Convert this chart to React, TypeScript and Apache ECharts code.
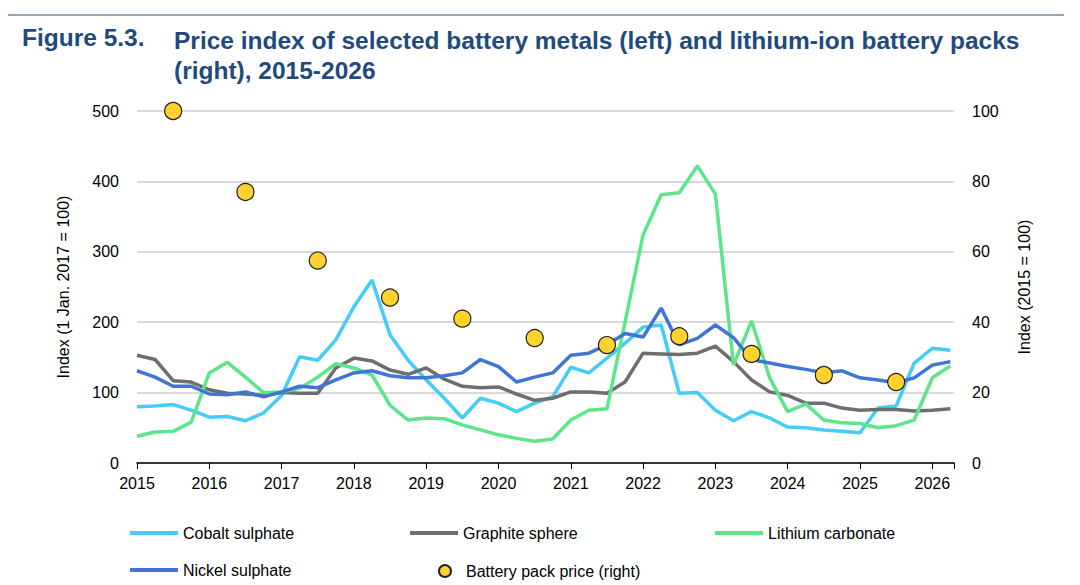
import { useEffect, useRef } from "react";
import * as echarts from "echarts";

// quarterly points, 2015 Q1 .. 2026 Q2
const quarters: number[] = Array.from({ length: 46 }, (_, i) => 2015 + i * 0.25);

const cobalt = [80, 81, 83, 75, 65, 66, 60, 71, 96, 151, 146, 175, 222, 260, 182, 146, 118, 92, 64, 92, 85, 73, 85,
  94, 136, 128, 149, 170, 193, 196, 99, 100, 75, 60, 73, 64, 51, 50, 47, 45, 43, 78, 81, 142, 163, 160];
const graphite = [153, 147, 117, 115, 104, 99, 98, 96, 100, 99, 99, 135, 149, 145, 132, 126, 135, 119, 109, 107, 108, 98, 89,
  92, 101, 101, 99, 115, 156, 155, 154, 156, 166, 144, 118, 101, 96, 85, 85, 78, 75, 76, 76, 74, 75, 77];
const lithium = [38, 44, 45, 58, 128, 143, 122, 100, 101, 106, 122, 141, 135, 125, 82, 61, 64, 63, 54, 47, 40, 35, 31,
  34, 61, 75, 77, 200, 324, 381, 384, 422, 382, 139, 202, 121, 73, 84, 61, 57, 56, 50, 53, 61, 121, 138];
const nickel = [131, 122, 109, 109, 98, 97, 101, 94, 101, 109, 107, 118, 128, 131, 124, 121, 121, 124, 128, 147, 137, 115, 122,
  128, 153, 156, 168, 184, 179, 220, 168, 177, 196, 178, 147, 142, 137, 133, 128, 131, 121, 118, 114, 121, 139, 144];

const packYears = [2015.5, 2016.5, 2017.5, 2018.5, 2019.5, 2020.5, 2021.5, 2022.5, 2023.5, 2024.5, 2025.5];
const packPrice = [100, 77, 57.5, 47, 41, 35.5, 33.5, 36, 31, 25, 23];

const FONT = "Liberation Sans, Arial, sans-serif";
const TITLE = "#1F4A7D";

const pair = (vals: number[]) => vals.map((v, i) => [quarters[i], v]);

export default function App() {
  const ref = useRef<HTMLDivElement>(null);

  useEffect(() => {
    if (!ref.current) return;
    const chart = echarts.init(ref.current, undefined, { renderer: "svg" });
    const line = (name: string, color: string, data: number[]) => ({
      name,
      type: "line" as const,
      data: pair(data),
      showSymbol: false,
      symbol: "none",
      lineStyle: { color, width: 3.5 },
      itemStyle: { color },
    });
    const titleFont = { fill: TITLE, fontSize: 24.5, fontWeight: "bold", fontFamily: FONT };
    const legendText = { fontSize: 16, color: "#000", fontFamily: FONT };
    const lineLegend = (name: string, left: number, top: number) => ({
      left, top, itemWidth: 48, itemHeight: 4, icon: "rect", data: [name], textStyle: legendText,
    });
    chart.setOption({
      animation: false,
      textStyle: { fontFamily: FONT },
      graphic: [
        { type: "line", shape: { x1: 0, y1: 7, x2: 1056, y2: 7 }, style: { stroke: "#2F4F7F", lineWidth: 1 } },
        { type: "text", x: 14, y: 17, style: { text: "Figure 5.3.", ...titleFont } },
        { type: "text", x: 166, y: 17, style: { text: "Price index of selected battery metals (left) and lithium-ion battery packs\n(right), 2015-2026", lineHeight: 30, ...titleFont } },
      ],
      grid: { left: 129, right: 118, top: 103, bottom: 122 },
      legend: [
        lineLegend("Cobalt sulphate", 117, 512),
        lineLegend("Graphite sphere", 397, 512),
        lineLegend("Lithium carbonate", 702, 512),
        lineLegend("Nickel sulphate", 117, 549),
        {
          left: 425, top: 550, itemWidth: 12, itemHeight: 12, icon: "circle",
          data: ["Battery pack price (right)"],
          textStyle: { ...legendText, padding: [0, 0, 0, 10] },
        },
      ],
      xAxis: {
        type: "value",
        min: 2015,
        max: 2026.3,
        interval: 1,
        axisLine: { lineStyle: { color: "#000", width: 1.5 } },
        axisTick: { show: true, length: 6, lineStyle: { color: "#000" } },
        axisLabel: { color: "#000", fontSize: 16, margin: 12, formatter: (v: number) => (Number.isInteger(v) ? String(v) : "") },
        splitLine: { show: false },
      },
      yAxis: [
        {
          type: "value", min: 0, max: 500, interval: 100,
          name: "Index (1 Jan. 2017 = 100)", nameLocation: "middle", nameGap: 66,
          nameTextStyle: { fontSize: 16, color: "#000" },
          axisLabel: { color: "#000", fontSize: 16, margin: 18 },
          axisLine: { show: false }, axisTick: { show: false },
          splitLine: { lineStyle: { color: "#d9d9d9", width: 2 } },
        },
        {
          type: "value", min: 0, max: 100, interval: 20,
          name: "Index (2015 = 100)", nameLocation: "middle", nameGap: 62,
          nameTextStyle: { fontSize: 16, color: "#000" },
          axisLabel: { color: "#000", fontSize: 16, margin: 18 },
          axisLine: { show: false }, axisTick: { show: false },
          splitLine: { show: false },
        },
      ],
      series: [
        line("Cobalt sulphate", "#45CCF7", cobalt),
        line("Graphite sphere", "#6E6E6E", graphite),
        line("Lithium carbonate", "#5DE58C", lithium),
        line("Nickel sulphate", "#3F76D3", nickel),
        {
          name: "Battery pack price (right)",
          type: "scatter",
          yAxisIndex: 1,
          symbolSize: 17,
          data: packYears.map((y, i) => [y, packPrice[i]]),
          itemStyle: { color: "#FFD22E", borderColor: "#222", borderWidth: 1.2, opacity: 1 },
          z: 5,
        },
      ],
    });
    return () => chart.dispose();
  }, []);

  return <div ref={ref} style={{ width: 1064, height: 577 }} />;
}
